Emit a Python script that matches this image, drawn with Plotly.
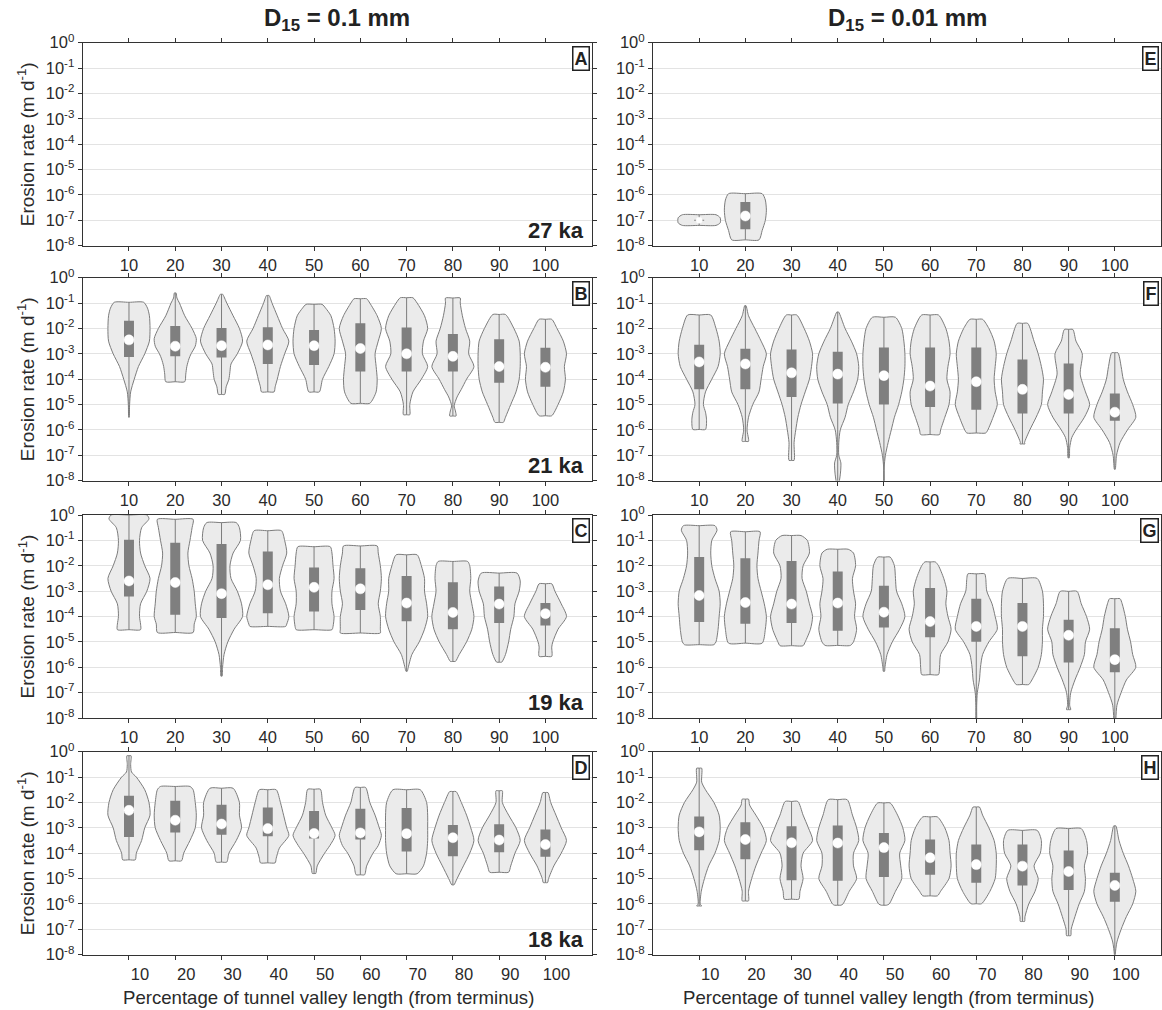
import plotly.graph_objects as go

# ---------------- data (log10 of erosion rate, m/d) ----------------
POS = [10, 20, 30, 40, 50, 60, 70, 80, 90, 100]
X_TICKTEXT = [str(p) for p in POS]
Y_EXP = list(range(-8, 1))
Y_TICKTEXT = ["10<sup>%d</sup>" % k for k in Y_EXP]

# violin outlines: (log10 value, relative half width) from bottom to top
B_shape = [
    [(-5.5, .01), (-5.0, .03), (-4.5, .08), (-4.0, .25), (-3.5, .45), (-3.0, .75), (-2.5, .97), (-2.0, 1.0), (-1.5, .97), (-1.2, .88), (-0.97, .7)],
    [(-4.1, .45), (-3.8, .5), (-3.5, .55), (-3.2, .65), (-3.0, .75), (-2.7, .95), (-2.4, 1.0), (-2.0, .8), (-1.5, .45), (-1.0, .2), (-0.8, .08), (-0.6, .04)],
    [(-4.6, .15), (-4.3, .22), (-4.0, .35), (-3.7, .4), (-3.4, .45), (-3.0, .75), (-2.5, 1.0), (-2.0, .85), (-1.5, .55), (-1.0, .25), (-0.65, .05)],
    [(-4.5, .3), (-4.3, .35), (-4.0, .45), (-3.5, .6), (-3.0, .8), (-2.5, 1.0), (-2.0, .7), (-1.5, .45), (-1.0, .2), (-0.7, .06)],
    [(-4.5, .25), (-4.0, .4), (-3.5, .7), (-3.0, .95), (-2.5, 1.0), (-2.0, .95), (-1.5, .8), (-1.2, .55), (-1.05, .38)],
    [(-4.95, .45), (-4.5, .75), (-4.0, .8), (-3.5, .75), (-3.0, .7), (-2.5, .85), (-2.0, 1.0), (-1.5, .8), (-1.0, .45), (-0.83, .3)],
    [(-5.4, .15), (-5.0, .15), (-4.5, .3), (-4.0, .7), (-3.5, 1.0), (-3.0, .75), (-2.5, .8), (-2.0, 1.0), (-1.5, .85), (-1.0, .5), (-0.79, .3)],
    [(-5.45, .15), (-5.25, .12), (-5.05, .06), (-4.7, .2), (-4.4, .4), (-4.0, .65), (-3.5, 1.0), (-3.0, .75), (-2.5, .8), (-2.0, .6), (-1.5, .45), (-1.0, .35), (-0.8, .35)],
    [(-5.7, .2), (-5.5, .3), (-5.0, .55), (-4.5, .8), (-4.0, .95), (-3.5, 1.0), (-3.0, 1.0), (-2.5, .95), (-2.0, .7), (-1.45, .3)],
    [(-5.44, .3), (-5.0, .6), (-4.5, .85), (-4.0, .95), (-3.5, .9), (-3.0, 1.0), (-2.5, .85), (-2.0, .55), (-1.64, .3)],
]
B_med = [-2.45, -2.7, -2.68, -2.65, -2.68, -2.79, -3.0, -3.1, -3.5, -3.53]
B_q1 = [-3.13, -3.1, -3.14, -3.4, -3.44, -3.7, -3.7, -3.7, -4.14, -4.3]
B_q3 = [-1.7, -1.9, -1.98, -1.95, -2.06, -1.8, -1.96, -2.22, -2.43, -2.76]

C_shape = [
    [(-4.52, .55), (-4.3, .55), (-4.0, .5), (-3.5, .55), (-3.0, .85), (-2.5, 1.0), (-2.0, .75), (-1.5, .55), (-1.0, .5), (-0.5, .6), (-0.15, .95), (0.0, .85)],
    [(-4.63, .85), (-4.3, .9), (-4.0, 1.0), (-3.5, .95), (-3.0, .9), (-2.5, .8), (-2.0, .65), (-1.5, .6), (-1.0, .7), (-0.5, .8), (-0.17, .85)],
    [(-6.35, .03), (-6.0, .05), (-5.5, .12), (-5.0, .3), (-4.5, .6), (-4.0, 1.0), (-3.5, .95), (-3.0, .75), (-2.5, .45), (-2.0, .4), (-1.5, .55), (-1.0, .9), (-0.5, .85), (-0.3, .7)],
    [(-4.39, .85), (-4.3, .9), (-4.0, 1.0), (-3.5, .85), (-3.0, .6), (-2.5, .55), (-2.0, .7), (-1.5, .9), (-1.0, .8), (-0.62, .65)],
    [(-4.52, .85), (-4.4, .9), (-4.0, .95), (-3.5, .85), (-3.0, .85), (-2.5, .95), (-2.0, .9), (-1.5, .85), (-1.25, .77)],
    [(-4.65, .95), (-4.5, .95), (-4.0, .95), (-3.5, .85), (-3.0, .95), (-2.5, 1.0), (-2.0, .95), (-1.5, .85), (-1.22, .8)],
    [(-6.16, .03), (-6.0, .08), (-5.5, .25), (-5.0, .6), (-4.5, .85), (-4.0, 1.0), (-3.5, .95), (-3.0, .85), (-2.5, .85), (-2.0, .7), (-1.57, .5)],
    [(-5.77, .12), (-5.5, .3), (-5.0, .65), (-4.5, .9), (-4.0, 1.0), (-3.5, .9), (-3.0, .8), (-2.5, .85), (-2.0, .8), (-1.83, .7)],
    [(-5.8, .12), (-5.5, .3), (-5.0, .45), (-4.5, .55), (-4.0, .7), (-3.5, .75), (-3.0, .95), (-2.6, 1.0), (-2.29, .85)],
    [(-5.57, .3), (-5.2, .3), (-5.0, .35), (-4.5, .6), (-4.0, 1.0), (-3.5, .75), (-3.0, .45), (-2.71, .3)],
]
C_med = [-2.6, -2.66, -3.1, -2.75, -2.85, -2.91, -3.47, -3.84, -3.51, -3.89]
C_q1 = [-3.21, -3.93, -4.06, -3.87, -3.8, -3.74, -4.19, -4.5, -4.26, -4.35]
C_q3 = [-0.98, -1.09, -1.14, -1.44, -2.07, -2.1, -2.4, -2.65, -2.82, -3.47]

D_shape = [
    [(-4.26, .3), (-4.0, .35), (-3.5, .6), (-3.0, .75), (-2.5, 1.0), (-2.0, .95), (-1.5, .75), (-1.0, .35), (-0.8, .12), (-0.5, .08), (-0.16, .1)],
    [(-4.3, .3), (-4.0, .4), (-3.5, .7), (-3.0, .95), (-2.5, 1.0), (-2.0, .95), (-1.5, .85), (-1.37, .7)],
    [(-4.35, .25), (-4.0, .35), (-3.5, .7), (-3.0, .95), (-2.5, .85), (-2.0, .85), (-1.44, .55)],
    [(-4.38, .35), (-4.2, .4), (-3.8, .55), (-3.3, 1.0), (-3.0, .9), (-2.5, .75), (-2.0, .6), (-1.5, .4)],
    [(-4.8, .08), (-4.5, .15), (-4.0, .5), (-3.7, .75), (-3.3, 1.0), (-3.0, .85), (-2.5, .55), (-2.0, .4), (-1.48, .3)],
    [(-4.85, .2), (-4.5, .3), (-4.0, .6), (-3.7, .85), (-3.3, 1.0), (-3.0, .9), (-2.5, .7), (-2.0, .45), (-1.41, .25)],
    [(-4.81, .5), (-4.5, .8), (-4.0, .95), (-3.5, 1.0), (-3.0, 1.0), (-2.5, 1.0), (-2.0, .95), (-1.5, .65)],
    [(-5.25, .05), (-5.0, .2), (-4.5, .5), (-4.0, .8), (-3.5, 1.0), (-3.0, .85), (-2.5, .65), (-2.0, .4), (-1.57, .15)],
    [(-4.75, .45), (-4.5, .55), (-4.0, .75), (-3.5, 1.0), (-3.0, .8), (-2.5, .45), (-2.0, .15), (-1.54, .15)],
    [(-5.16, .1), (-5.0, .15), (-4.5, .4), (-4.0, .75), (-3.5, 1.0), (-3.0, .75), (-2.5, .5), (-2.0, .25), (-1.61, .12)],
]
D_med = [-2.31, -2.7, -2.85, -3.03, -3.22, -3.2, -3.23, -3.39, -3.48, -3.66]
D_q1 = [-3.36, -3.18, -3.27, -3.33, -3.42, -3.46, -3.93, -4.12, -3.96, -4.14]
D_q3 = [-1.74, -1.93, -2.09, -2.2, -2.34, -2.25, -2.22, -2.89, -2.86, -3.07]

E_pos = [10, 20]
E_shape = [
    [(-7.2, .8), (-7.1, 1.0), (-6.9, 1.0), (-6.78, .8)],
    [(-7.77, .65), (-7.4, .8), (-7.0, .95), (-6.6, 1.0), (-6.2, .95), (-5.95, .8)],
]
E_med = [-7.0, -6.83]
E_q1 = [-7.02, -7.35]
E_q3 = [-6.98, -6.28]

F_shape = [
    [(-5.98, .3), (-5.6, .35), (-5.3, .3), (-5.0, .2), (-4.5, .3), (-4.0, .6), (-3.5, .9), (-3.0, 1.0), (-2.5, .95), (-2.0, .8), (-1.47, .55)],
    [(-6.45, .15), (-6.0, .08), (-5.5, .15), (-5.0, .35), (-4.5, .65), (-4.0, .75), (-3.5, .85), (-3.0, 1.0), (-2.5, .75), (-2.0, .45), (-1.5, .15), (-1.1, .03)],
    [(-7.2, .12), (-6.5, .12), (-6.0, .2), (-5.5, .3), (-5.0, .45), (-4.5, .65), (-4.0, .85), (-3.5, .95), (-3.0, 1.0), (-2.5, .85), (-2.0, .6), (-1.47, .25)],
    [(-8.3, .02), (-8.0, .08), (-7.7, .13), (-7.3, .15), (-7.0, .05), (-6.5, .05), (-6.0, .12), (-5.5, .35), (-5.0, .5), (-4.5, .75), (-4.0, .95), (-3.5, 1.0), (-3.0, .9), (-2.5, .65), (-2.0, .35), (-1.35, .04)],
    [(-8.5, .01), (-7.5, .01), (-7.0, .07), (-6.5, .2), (-6.0, .35), (-5.5, .5), (-5.0, .7), (-4.5, .85), (-4.0, .95), (-3.5, 1.0), (-3.0, 1.0), (-2.5, .95), (-2.0, .85), (-1.56, .55)],
    [(-6.18, .45), (-6.0, .5), (-5.5, .7), (-5.0, .9), (-4.5, .95), (-4.0, .8), (-3.5, .85), (-3.0, .95), (-2.5, .9), (-2.0, .75), (-1.47, .4)],
    [(-6.12, .45), (-6.0, .55), (-5.5, .8), (-5.0, 1.0), (-4.5, .9), (-4.0, .85), (-3.5, .9), (-3.0, .95), (-2.5, .85), (-2.0, .6), (-1.64, .3)],
    [(-6.55, .12), (-6.5, .1), (-6.0, .35), (-5.5, .65), (-5.0, .9), (-4.5, .95), (-4.0, 1.0), (-3.5, .9), (-3.0, .75), (-2.5, .55), (-1.8, .25)],
    [(-7.1, .03), (-6.7, .05), (-6.3, .15), (-6.0, .35), (-5.5, .75), (-5.0, 1.0), (-4.5, .8), (-3.8, .55), (-3.0, .65), (-2.5, .35), (-2.04, .2)],
    [(-7.55, .02), (-7.0, .08), (-6.5, .25), (-6.0, .6), (-5.5, 1.0), (-5.0, .85), (-4.5, .6), (-4.0, .4), (-3.5, .3), (-2.96, .15)],
]
F_med = [-3.32, -3.4, -3.75, -3.8, -3.86, -4.27, -4.1, -4.4, -4.6, -5.3]
F_q1 = [-4.4, -4.4, -4.7, -4.96, -5.0, -5.1, -5.2, -5.35, -5.35, -5.64]
F_q3 = [-2.64, -2.8, -2.83, -2.92, -2.75, -2.75, -2.75, -3.22, -3.38, -4.56]

G_shape = [
    [(-5.11, .7), (-5.0, .8), (-4.5, .9), (-4.0, .95), (-3.5, 1.0), (-3.0, .95), (-2.5, .75), (-2.0, .6), (-1.5, .55), (-1.0, .6), (-0.6, .85), (-0.42, .75)],
    [(-5.05, .8), (-4.5, .95), (-4.0, 1.0), (-3.5, .9), (-3.0, .75), (-2.5, .6), (-2.0, .55), (-1.5, .6), (-1.0, .65), (-0.66, .7)],
    [(-5.15, .55), (-5.0, .65), (-4.5, .9), (-4.0, 1.0), (-3.5, .85), (-3.0, .7), (-2.5, .5), (-2.0, .55), (-1.5, .85), (-1.0, .75), (-0.81, .45)],
    [(-5.14, .6), (-5.0, .75), (-4.5, .9), (-4.0, .8), (-3.5, .85), (-3.0, .75), (-2.5, .7), (-2.0, .85), (-1.5, .75), (-1.35, .5)],
    [(-6.16, .03), (-6.0, .05), (-5.5, .15), (-5.0, .4), (-4.5, .75), (-4.0, 1.0), (-3.5, .85), (-3.0, .6), (-2.5, .55), (-2.0, .5), (-1.66, .3)],
    [(-6.29, .4), (-6.0, .45), (-5.5, .5), (-5.0, .85), (-4.5, 1.0), (-4.0, .85), (-3.5, .75), (-3.0, .8), (-2.5, .65), (-2.0, .4), (-1.85, .25)],
    [(-8.5, .01), (-7.5, .02), (-7.0, .05), (-6.5, .15), (-6.0, .2), (-5.5, .3), (-5.0, .6), (-4.5, 1.0), (-4.0, .9), (-3.5, .75), (-3.0, .5), (-2.5, .45), (-2.32, .4)],
    [(-6.68, .3), (-6.5, .45), (-6.0, .75), (-5.5, .9), (-5.0, .95), (-4.5, .95), (-4.0, 1.0), (-3.5, 1.0), (-3.0, .95), (-2.5, .7)],
    [(-7.67, .1), (-7.5, .05), (-7.0, .1), (-6.5, .3), (-6.0, .55), (-5.5, .75), (-5.0, .8), (-4.5, 1.0), (-4.0, .85), (-3.5, .6), (-3.01, .4)],
    [(-8.5, .01), (-7.5, .1), (-7.0, .3), (-6.5, .55), (-6.0, 1.0), (-5.5, .85), (-5.0, .75), (-4.5, .6), (-4.0, .5), (-3.5, .35), (-3.3, .25)],
]
G_med = [-3.17, -3.45, -3.51, -3.47, -3.83, -4.2, -4.39, -4.39, -4.74, -5.7]
G_q1 = [-4.22, -4.29, -4.26, -4.56, -4.43, -4.82, -5.0, -5.57, -5.81, -6.2]
G_q3 = [-1.66, -1.7, -1.81, -2.23, -2.79, -2.88, -3.3, -3.47, -4.13, -4.46]

H_shape = [
    [(-6.08, .12), (-6.0, .05), (-5.5, .1), (-5.0, .25), (-4.5, .45), (-4.0, .75), (-3.5, .95), (-3.0, 1.0), (-2.5, .95), (-2.0, .7), (-1.5, .3), (-1.2, .12), (-0.65, .12)],
    [(-5.88, .15), (-5.5, .15), (-5.0, .3), (-4.5, .5), (-4.0, .75), (-3.5, 1.0), (-3.0, .85), (-2.5, .5), (-2.1, .2), (-1.87, .15)],
    [(-5.81, .35), (-5.5, .4), (-5.0, .55), (-4.5, .45), (-4.0, .55), (-3.5, 1.0), (-3.0, .8), (-2.5, .55), (-1.96, .3)],
    [(-6.05, .15), (-6.0, .25), (-5.5, .55), (-5.0, .9), (-4.5, .75), (-4.0, .75), (-3.5, 1.0), (-3.0, .9), (-2.5, .7), (-1.89, .45)],
    [(-6.05, .12), (-6.0, .25), (-5.5, .55), (-5.0, .85), (-4.5, .8), (-4.0, .75), (-3.5, 1.0), (-3.0, .9), (-2.5, .65), (-2.02, .3)],
    [(-5.68, .35), (-5.5, .5), (-5.0, .9), (-4.5, 1.0), (-4.0, .95), (-3.5, .9), (-3.0, .7), (-2.57, .35)],
    [(-5.99, .25), (-5.5, .65), (-5.0, .9), (-4.5, .95), (-4.0, .95), (-3.5, .85), (-3.0, .6), (-2.5, .3), (-2.18, .15)],
    [(-6.69, .1), (-6.5, .12), (-6.0, .3), (-5.5, .6), (-5.0, .75), (-4.5, .55), (-4.0, .85), (-3.5, .9), (-3.1, .7)],
    [(-7.25, .1), (-7.0, .12), (-6.5, .3), (-6.0, .5), (-5.5, .75), (-5.0, .8), (-4.5, .75), (-4.0, .9), (-3.5, .85), (-3.03, .6)],
    [(-8.5, .01), (-8.0, .02), (-7.5, .1), (-7.0, .3), (-6.5, .55), (-6.0, .85), (-5.5, 1.0), (-5.0, .85), (-4.5, .65), (-4.0, .4), (-3.5, .2), (-2.92, .05)],
]
H_med = [-3.16, -3.46, -3.59, -3.6, -3.78, -4.18, -4.45, -4.51, -4.72, -5.27]
H_q1 = [-3.88, -4.24, -5.07, -5.09, -4.94, -4.85, -5.16, -5.27, -5.45, -5.91]
H_q3 = [-2.55, -2.78, -2.94, -2.91, -3.2, -3.46, -3.66, -3.66, -3.89, -4.77]

AGES = ["27 ka", "21 ka", "19 ka", "18 ka"]

# ---------------- layout constants ----------------
FIG_W, FIG_H = 1162, 1010
COL_X = [(82.7, 591.7), (653.0, 1161.0)]
ROW_TOP = [42.7, 277.7, 515.0, 751.7]
PANEL_H = 203.0
W_MAX = 4.55      # violin max half width (x units)
BOX_HW = 1.08     # box half width (x units)
FONT = "Arial, Liberation Sans, sans-serif"
VIOLIN_FILL = "#ebebeb"
VIOLIN_LINE = "#7c7c7c"
BOX_COL = "#7f7f7f"
AX_COL = "#333333"


def px(x):
    return x / FIG_W


def py(y):
    return 1 - y / FIG_H


panels = [
    ("A", 0, 0, [], [], [], [], []),
    ("B", 0, 1, POS, B_shape, B_med, B_q1, B_q3),
    ("C", 0, 2, POS, C_shape, C_med, C_q1, C_q3),
    ("D", 0, 3, POS, D_shape, D_med, D_q1, D_q3),
    ("E", 1, 0, E_pos, E_shape, E_med, E_q1, E_q3),
    ("F", 1, 1, POS, F_shape, F_med, F_q1, F_q3),
    ("G", 1, 2, POS, G_shape, G_med, G_q1, G_q3),
    ("H", 1, 3, POS, H_shape, H_med, H_q1, H_q3),
]

fig = go.Figure()
annotations = []
layout_axes = {}

for i, (letter, col, row, pos, shapes, med, q1, q3) in enumerate(panels, start=1):
    xa, ya = "x%d" % i, "y%d" % i
    x0, x1 = COL_X[col]
    top = ROW_TOP[row]
    bot = top + PANEL_H
    bottom_row = row == 3

    layout_axes["xaxis%d" % i] = dict(
        domain=[px(x0), px(x1)], anchor=ya, range=[0, 110],
        tickmode="array", tickvals=POS, ticktext=X_TICKTEXT,
        ticks="outside", ticklen=4, tickcolor=AX_COL, tickwidth=1,
        showline=True, linecolor=AX_COL, linewidth=1, mirror="ticks",
        showgrid=False, zeroline=False, automargin=False,
        tickfont=dict(family=FONT, size=16.5, color="#2a2a2a"),
        ticklabelshift=11 if bottom_row else 0,
    )
    layout_axes["yaxis%d" % i] = dict(
        domain=[py(bot), py(top)], anchor=xa, type="log", range=[-8, 0],
        tickmode="array", tickvals=[10.0 ** k for k in Y_EXP], ticktext=Y_TICKTEXT,
        ticks="outside", ticklen=4, tickcolor=AX_COL, tickwidth=1,
        showline=True, linecolor=AX_COL, linewidth=1, mirror="ticks",
        showgrid=True, gridcolor="#e3e3e3", gridwidth=1, zeroline=False,
        automargin=False,
        tickfont=dict(family=FONT, size=16.5, color="#2a2a2a"),
    )

    # keep every subplot's axes alive even when it holds no violins
    fig.add_trace(go.Scatter(x=[None], y=[None], xaxis=xa, yaxis=ya, mode="lines",
                             hoverinfo="skip", showlegend=False))

    vx, vy, wx, wy, bx, by = [], [], [], [], [], []
    for p, prof in zip(pos, shapes):
        right = [(p + w * W_MAX, 10.0 ** ly) for ly, w in prof]
        left = [(p - w * W_MAX, 10.0 ** ly) for ly, w in reversed(prof)]
        ring = right + [(p, 10.0 ** prof[-1][0])] + left + [(p, 10.0 ** prof[0][0])] + [right[0]]
        vx += [a for a, _ in ring] + [None]
        vy += [b for _, b in ring] + [None]
        wx += [p, p, None]
        wy += [10.0 ** prof[0][0], 10.0 ** prof[-1][0], None]
    for p, lo, hi in zip(pos, q1, q3):
        bx += [p - BOX_HW, p + BOX_HW, p + BOX_HW, p - BOX_HW, p - BOX_HW, None]
        by += [10.0 ** lo, 10.0 ** lo, 10.0 ** hi, 10.0 ** hi, 10.0 ** lo, None]

    if pos:
        fig.add_trace(go.Scatter(
            x=vx, y=vy, xaxis=xa, yaxis=ya, mode="lines", fill="toself",
            fillcolor=VIOLIN_FILL, line=dict(color=VIOLIN_LINE, width=1, shape="spline", smoothing=0.7),
            hoverinfo="skip", showlegend=False))
        fig.add_trace(go.Scatter(
            x=wx, y=wy, xaxis=xa, yaxis=ya, mode="lines",
            line=dict(color=VIOLIN_LINE, width=1), hoverinfo="skip", showlegend=False))
        fig.add_trace(go.Scatter(
            x=bx, y=by, xaxis=xa, yaxis=ya, mode="lines", fill="toself",
            fillcolor=BOX_COL, line=dict(width=0, color=BOX_COL),
            hoverinfo="skip", showlegend=False))
        sizes = [6 if (letter == "E" and k == 0) else 10 for k in range(len(pos))]
        fig.add_trace(go.Scatter(
            x=pos, y=[10.0 ** m for m in med], xaxis=xa, yaxis=ya, mode="markers",
            opacity=1, cliponaxis=False,
            marker=dict(color="#ffffff", size=sizes, opacity=1, line=dict(width=0.5, color="#ffffff")),
            hoverinfo="skip", showlegend=False))

    annotations.append(dict(
        xref="paper", yref="paper", x=px(x1 - 2), y=py(top + 3),
        xanchor="right", yanchor="top", text="<b>%s</b>" % letter, showarrow=False,
        font=dict(family=FONT, size=18, color="#222"), bgcolor="white",
        bordercolor="#222", borderwidth=1.5, borderpad=1))
    if col == 0:
        annotations.append(dict(
            xref="paper", yref="paper", x=px(x1 - 6), y=py(bot - 1),
            xanchor="right", yanchor="bottom", text="<b>%s</b>" % AGES[row], showarrow=False,
            font=dict(family=FONT, size=22, color="#222")))
        annotations.append(dict(
            xref="paper", yref="paper", x=px(26), y=py(top + PANEL_H / 2),
            xanchor="center", yanchor="middle", textangle=-90,
            text="Erosion rate (m d<sup>-1</sup>)", showarrow=False,
            font=dict(family=FONT, size=19, color="#2a2a2a")))
    if bottom_row:
        annotations.append(dict(
            xref="paper", yref="paper", x=px(328 if col == 0 else 888), y=py(997),
            xanchor="center", yanchor="middle",
            text="Percentage of tunnel valley length (from terminus)", showarrow=False,
            font=dict(family=FONT, size=18.6, color="#2a2a2a")))

for col, txt in enumerate(["<b>D<sub>15</sub> = 0.1 mm</b>", "<b>D<sub>15</sub> = 0.01 mm</b>"]):
    x0, x1 = COL_X[col]
    annotations.append(dict(
        xref="paper", yref="paper", x=px((x0 + x1) / 2), y=py(19),
        xanchor="center", yanchor="middle", text=txt, showarrow=False,
        font=dict(family=FONT, size=24, color="#222")))

fig.update_layout(
    width=FIG_W, height=FIG_H, autosize=False,
    margin=dict(l=0, r=0, t=0, b=0, pad=0),
    paper_bgcolor="white", plot_bgcolor="white",
    annotations=annotations, showlegend=False,
    **layout_axes,
)

fig.write_html(
    "out.html",
    config={"displayModeBar": False, "staticPlot": True},
    post_script="document.body.style.margin='0';document.body.style.overflow='hidden';",
)
